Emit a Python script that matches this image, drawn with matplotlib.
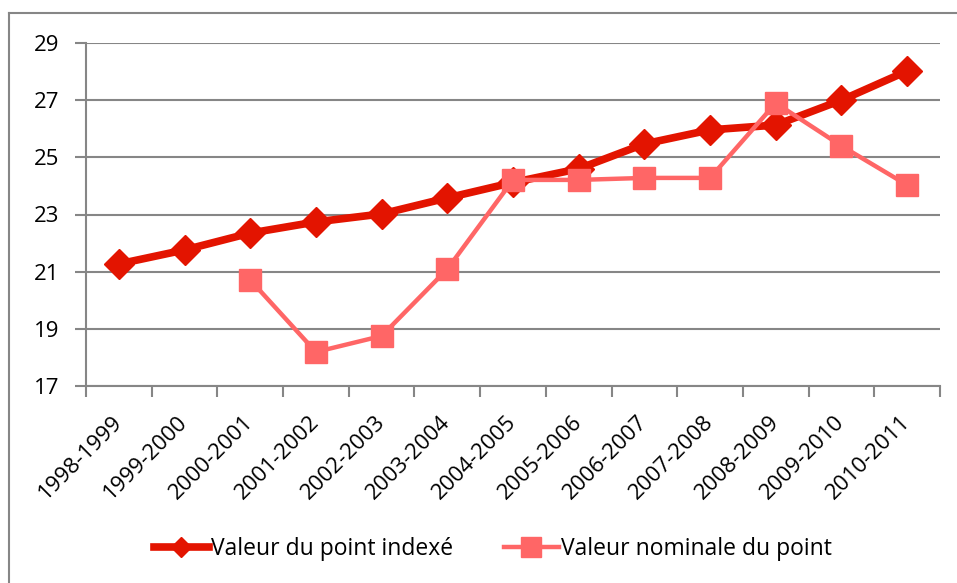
import matplotlib.pyplot as plt
from matplotlib.lines import Line2D
import numpy as np

# categories and values
periods = ["1998-1999", "1999-2000", "2000-2001", "2001-2002", "2002-2003",
           "2003-2004", "2004-2005", "2005-2006", "2006-2007", "2007-2008",
           "2008-2009", "2009-2010", "2010-2011"]
indexe = [21.27, 21.76, 22.35, 22.74, 23.02, 23.58, 24.12, 24.6, 25.47,
          25.96, 26.13, 27.0, 28.02]
nominale = [np.nan, np.nan, 20.71, 18.19, 18.75, 21.09, 24.21, 24.21, 24.28,
            24.28, 26.9, 25.4, 24.03]

plt.rcParams['font.family'] = ['Open Sans', 'DejaVu Sans']

fig = plt.figure(figsize=(9.57, 5.83), dpi=100)
ax = fig.add_axes([86 / 957, 1 - 386 / 583, (940 - 86) / 957, (386 - 43) / 583])

grey = "#868686"
dark_red = "#E31400"
light_red = "#FF6666"

x = np.arange(len(periods))
ax.plot(x, indexe, color=dark_red, lw=5.5, marker="D", ms=15, zorder=3,
        label="Valeur du point indexé")
ax.plot(x, nominale, color=light_red, lw=3.2, marker="s", ms=16, zorder=4,
        label="Valeur nominale du point")

ax.set_xlim(-0.5, len(periods) - 0.5)
ax.set_ylim(17, 29)
ax.set_yticks(range(17, 30, 2))
ax.set_xticks(x)
ax.set_xticklabels(periods, rotation=45, ha="right", va="center",
                   rotation_mode="anchor")
ax.set_xticks(np.arange(-0.5, len(periods), 1), minor=True)
ax.tick_params(axis="x", which="major", length=0, pad=24, labelsize=16)
ax.tick_params(axis="x", which="minor", length=8, width=1.5, color=grey)
ax.tick_params(axis="y", length=8, width=1.5, color=grey, labelsize=16, pad=11)

ax.grid(axis="y", color=grey, lw=1.5)
ax.set_axisbelow(True)
for side in ["top", "right"]:
    ax.spines[side].set_visible(False)
for side in ["left", "bottom"]:
    ax.spines[side].set_color(grey)
    ax.spines[side].set_linewidth(1.5)

handles = [
    Line2D([], [], color=dark_red, lw=5.5, marker="D", ms=10),
    Line2D([], [], color=light_red, lw=3.2, marker="s", ms=14),
]
fig.legend(handles, ["Valeur du point indexé", "Valeur nominale du point"],
           loc="center", bbox_to_anchor=(493 / 957, 1 - 549 / 583), ncol=2,
           frameon=False, fontsize=16.5, handlelength=2.4, handletextpad=0.1,
           columnspacing=2.2)

# outer chart border (top and left visible)
fig.add_artist(Line2D([9 / 957, 9 / 957], [0, 1 - 13 / 583], color=grey, lw=1.5))
fig.add_artist(Line2D([9 / 957, 1], [1 - 13 / 583, 1 - 13 / 583], color=grey, lw=1.5))

fig.savefig("out.png", dpi=100)
